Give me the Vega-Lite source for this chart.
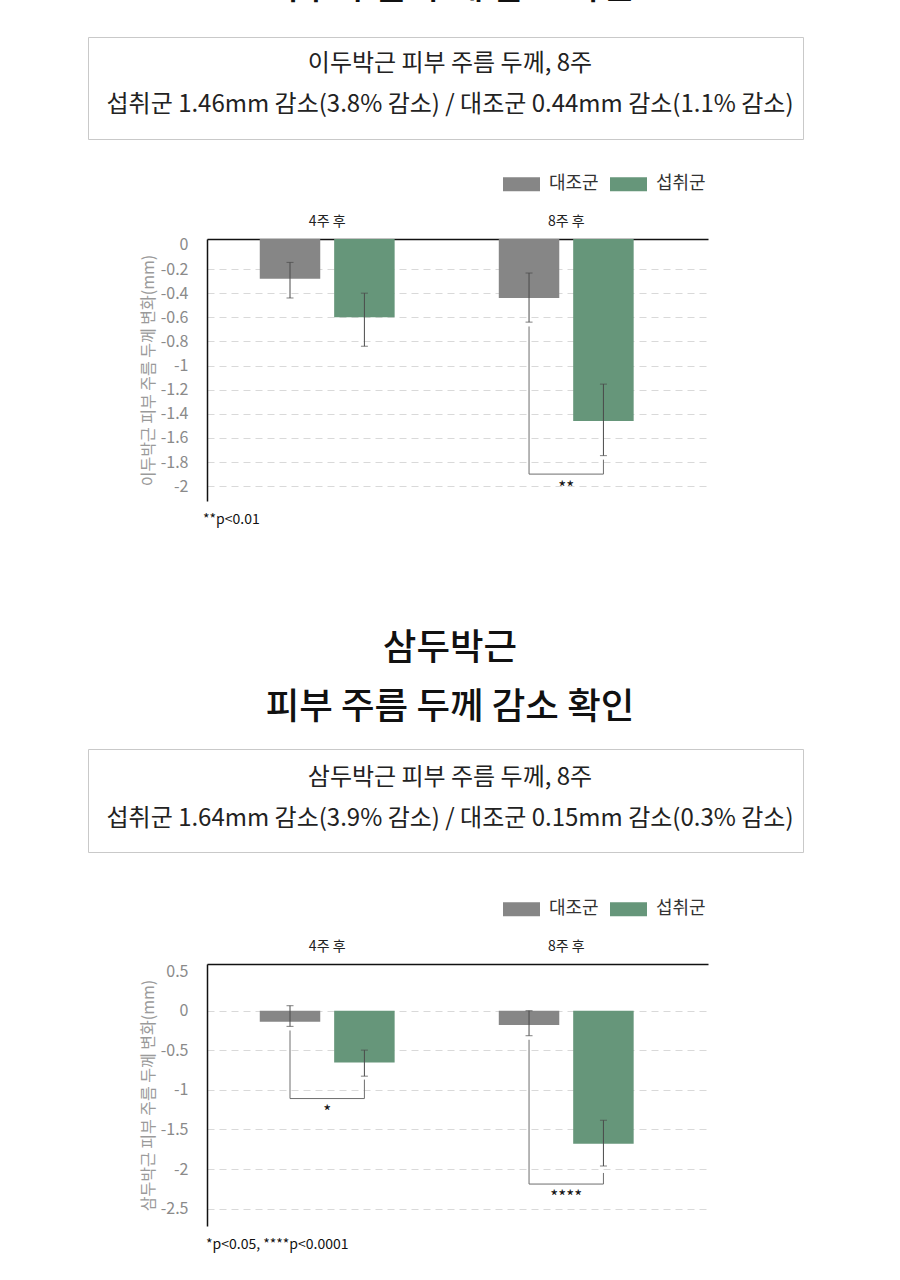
{
  "$schema": "https://vega.github.io/schema/vega-lite/v6.json",
  "padding": 0,
  "background": "white",
  "spacing": 0,
  "config": {
    "view": {"stroke": null},
    "font": "Noto Sans CJK KR",
    "concat": {"spacing": 0}
  },
  "resolve": {"scale": {"color": "independent"}, "legend": {"color": "independent"}},
  "datasets": {
    "bars1": [
      {"week": "4주 후", "group": "대조군", "v": -0.28},
      {"week": "4주 후", "group": "섭취군", "v": -0.60},
      {"week": "8주 후", "group": "대조군", "v": -0.44},
      {"week": "8주 후", "group": "섭취군", "v": -1.46}
    ],
    "err1": [
      {"week": "4주 후", "group": "대조군", "lo": -0.44, "hi": -0.145},
      {"week": "4주 후", "group": "섭취군", "lo": -0.84, "hi": -0.40},
      {"week": "8주 후", "group": "대조군", "lo": -0.64, "hi": -0.233},
      {"week": "8주 후", "group": "섭취군", "lo": -1.747, "hi": -1.154}
    ],
    "brk1": [
      {"week": "8주 후", "group": "대조군", "v": -0.676, "i": 1},
      {"week": "8주 후", "group": "대조군", "v": -1.90, "i": 2},
      {"week": "8주 후", "group": "섭취군", "v": -1.90, "i": 3},
      {"week": "8주 후", "group": "섭취군", "v": -1.78, "i": 4}
    ],
    "star1": [
      {"week": "8주 후", "v": -1.90, "label": "**"}
    ],
    "bars2": [
      {"week": "4주 후", "group": "대조군", "v": -0.14},
      {"week": "4주 후", "group": "섭취군", "v": -0.654},
      {"week": "8주 후", "group": "대조군", "v": -0.18},
      {"week": "8주 후", "group": "섭취군", "v": -1.68}
    ],
    "err2": [
      {"week": "4주 후", "group": "대조군", "lo": -0.198, "hi": 0.063},
      {"week": "4주 후", "group": "섭취군", "lo": -0.827, "hi": -0.498},
      {"week": "8주 후", "group": "대조군", "lo": -0.316, "hi": 0.0},
      {"week": "8주 후", "group": "섭취군", "lo": -1.962, "hi": -1.384}
    ],
    "brk2": [
      {"week": "4주 후", "group": "대조군", "v": -0.25, "i": 1},
      {"week": "4주 후", "group": "대조군", "v": -1.11, "i": 2},
      {"week": "4주 후", "group": "섭취군", "v": -1.11, "i": 3},
      {"week": "4주 후", "group": "섭취군", "v": -0.87, "i": 4},
      {"week": "8주 후", "group": "대조군", "v": -0.367, "i": 1},
      {"week": "8주 후", "group": "대조군", "v": -2.19, "i": 2},
      {"week": "8주 후", "group": "섭취군", "v": -2.19, "i": 3},
      {"week": "8주 후", "group": "섭취군", "v": -2.05, "i": 4}
    ],
    "star2": [
      {"week": "4주 후", "v": -1.11, "label": "*"},
      {"week": "8주 후", "v": -2.19, "label": "****"}
    ]
  },
  "vconcat": [
    {
      "width": 900, "height": 36,
      "data": {"values": [{"t": "피부 주름 두께 감소 확인"}]},
      "mark": {"type": "text", "clip": true, "fontSize": 36.5, "fontWeight": 500, "color": "#111", "dy": -30},
      "encoding": {"text": {"field": "t"}}
    },
    {
      "spacing": 0,
      "resolve": {"scale": {"color": "independent"}, "legend": {"color": "independent"}},
      "hconcat": [
        {"width": 87, "height": 127.5, "data": {"values": []}, "mark": "point"},
        {
          "width": 715, "height": 102,
          "view": {"stroke": "#c9c9c9", "strokeWidth": 1},
          "data": {"values": [{"t": "이두박근 피부 주름 두께, 8주\n섭취군 1.46mm 감소(3.8% 감소) / 대조군 0.44mm 감소(1.1% 감소)"}]},
          "mark": {"type": "text", "lineBreak": "\n", "lineHeight": 41, "fontSize": 24, "color": "#222", "dx": 4.5, "dy": -24},
          "encoding": {"text": {"field": "t"}}
        }
      ]
    },
    {
      "spacing": 0,
      "resolve": {"scale": {"color": "independent"}, "legend": {"color": "independent"}},
      "hconcat": [
        {"width": 140, "height": 361, "data": {"values": []}, "mark": "point"},
        {
          "width": 501, "height": 262,
          "title": {"text": "**p<0.01", "orient": "bottom", "anchor": "start", "frame": "group", "fontSize": 14, "fontWeight": "normal", "color": "#111", "offset": 12, "dx": -4},
          "encoding": {
            "x": {"field": "week", "type": "nominal",
              "scale": {"domain": ["4주 후", "8주 후"], "paddingInner": 0, "paddingOuter": 0.048, "align": 0.03},
              "axis": {"orient": "top", "title": null, "ticks": false, "labelAngle": 0, "labelFontSize": 14, "labelColor": "#222", "labelPadding": 11, "domainColor": "#111", "domainWidth": 1.5, "grid": false}}
          },
          "layer": [
            {
              "data": {"name": "bars1"},
              "mark": {"type": "bar"},
              "encoding": {
                "xOffset": {"field": "group", "type": "nominal", "scale": {"domain": ["대조군", "섭취군"], "paddingInner": 0.187, "paddingOuter": 0.7}},
                "y": {"field": "v", "type": "quantitative",
                  "scale": {"domain": [-2.123, 0.049], "nice": false, "zero": false},
                  "axis": {"title": "이두박근 피부 주름 두께 변화(mm)", "values": [0, -0.2, -0.4, -0.6, -0.8, -1, -1.2, -1.4, -1.6, -1.8, -2], "tickCount": 12,
                    "labelExpr": "replace(format(datum.value, '~g'), '\u2212', '-')", "labelOverlap": false,
                    "grid": true, "gridColor": "#d9d9d9", "gridDash": [7, 5], "gridWidth": 1,
                    "gridOpacity": {"condition": {"test": "datum.value >= 0", "value": 0}, "value": 1},
                    "ticks": false, "labelFontSize": 16, "labelColor": "#8a8a8a", "labelPadding": 19,
                    "domainColor": "#111", "domainWidth": 1.5,
                    "titleFontSize": 16, "titleFontWeight": "normal", "titleColor": "#9a9a9a", "titlePadding": 4}},
                "y2": {"datum": 0.049},
                "color": {"field": "group", "type": "nominal",
                  "scale": {"domain": ["대조군", "섭취군"], "range": ["#868686", "#66967a"]},
                  "legend": {"orient": "none", "legendX": 296, "legendY": -73.5, "direction": "horizontal", "title": null,
                    "symbolType": "M-1,-0.38L1,-0.38L1,0.38L-1,0.38Z", "symbolSize": 1369, "symbolStrokeWidth": 0, "symbolOpacity": 1,
                    "labelFontSize": 18, "labelColor": "#333", "labelOffset": 9, "columnPadding": 11, "padding": 0}}
              }
            },
            {
              "data": {"name": "err1"},
              "mark": {"type": "rule", "color": "#4a4a4a", "strokeWidth": 1},
              "encoding": {
                "xOffset": {"field": "group", "type": "nominal", "scale": {"domain": ["대조군", "섭취군"], "paddingInner": 0.187, "paddingOuter": 0.7}},
                "y": {"field": "lo", "type": "quantitative", "scale": {"domain": [-2.123, 0.049], "nice": false, "zero": false}},
                "y2": {"field": "hi"}
              }
            },
            {
              "data": {"name": "err1"},
              "mark": {"type": "tick", "color": "#4a4a4a", "thickness": 1, "size": 7},
              "encoding": {
                "xOffset": {"field": "group", "type": "nominal", "scale": {"domain": ["대조군", "섭취군"], "paddingInner": 0.187, "paddingOuter": 0.7}},
                "y": {"field": "lo", "type": "quantitative", "scale": {"domain": [-2.123, 0.049], "nice": false, "zero": false}}
              }
            },
            {
              "data": {"name": "err1"},
              "mark": {"type": "tick", "color": "#4a4a4a", "thickness": 1, "size": 7},
              "encoding": {
                "xOffset": {"field": "group", "type": "nominal", "scale": {"domain": ["대조군", "섭취군"], "paddingInner": 0.187, "paddingOuter": 0.7}},
                "y": {"field": "hi", "type": "quantitative", "scale": {"domain": [-2.123, 0.049], "nice": false, "zero": false}}
              }
            },
            {
              "data": {"name": "brk1"},
              "mark": {"type": "line", "color": "#6e6e6e", "strokeWidth": 1},
              "encoding": {
                "xOffset": {"field": "group", "type": "nominal", "scale": {"domain": ["대조군", "섭취군"], "paddingInner": 0.187, "paddingOuter": 0.7}},
                "y": {"field": "v", "type": "quantitative", "scale": {"domain": [-2.123, 0.049], "nice": false, "zero": false}},
                "order": {"field": "i", "type": "quantitative"},
                "detail": {"field": "week"}
              }
            },
            {
              "data": {"name": "star1"},
              "mark": {"type": "text", "baseline": "top", "dy": 7, "fontSize": 17, "color": "#111"},
              "encoding": {
                "y": {"field": "v", "type": "quantitative", "scale": {"domain": [-2.123, 0.049], "nice": false, "zero": false}},
                "text": {"field": "label"}
              }
            }
          ]
        }
      ]
    },
    {
      "width": 900, "height": 148,
      "data": {"values": [{"t": "삼두박근\n피부 주름 두께 감소 확인"}]},
      "mark": {"type": "text", "lineBreak": "\n", "lineHeight": 59, "fontSize": 36.5, "fontWeight": 500, "color": "#111", "dy": -25},
      "encoding": {"text": {"field": "t"}}
    },
    {
      "spacing": 0,
      "resolve": {"scale": {"color": "independent"}, "legend": {"color": "independent"}},
      "hconcat": [
        {"width": 87, "height": 140.8, "data": {"values": []}, "mark": "point"},
        {
          "width": 715, "height": 103,
          "view": {"stroke": "#c9c9c9", "strokeWidth": 1},
          "data": {"values": [{"t": "삼두박근 피부 주름 두께, 8주\n섭취군 1.64mm 감소(3.9% 감소) / 대조군 0.15mm 감소(0.3% 감소)"}]},
          "mark": {"type": "text", "lineBreak": "\n", "lineHeight": 41, "fontSize": 24, "color": "#222", "dx": 4.5, "dy": -23},
          "encoding": {"text": {"field": "t"}}
        }
      ]
    },
    {
      "spacing": 0,
      "resolve": {"scale": {"color": "independent"}, "legend": {"color": "independent"}},
      "hconcat": [
        {"width": 140, "height": 316, "data": {"values": []}, "mark": "point"},
        {
          "width": 501, "height": 262,
          "title": {"text": "*p<0.05, ****p<0.0001", "orient": "bottom", "anchor": "start", "frame": "group", "fontSize": 14, "fontWeight": "normal", "color": "#111", "offset": 12, "dx": -1},
          "encoding": {
            "x": {"field": "week", "type": "nominal",
              "scale": {"domain": ["4주 후", "8주 후"], "paddingInner": 0, "paddingOuter": 0.048, "align": 0.03},
              "axis": {"orient": "top", "title": null, "ticks": false, "labelAngle": 0, "labelFontSize": 14, "labelColor": "#222", "labelPadding": 11, "domainColor": "#111", "domainWidth": 1.5, "grid": false}}
          },
          "layer": [
            {
              "data": {"name": "bars2"},
              "mark": {"type": "bar"},
              "encoding": {
                "xOffset": {"field": "group", "type": "nominal", "scale": {"domain": ["대조군", "섭취군"], "paddingInner": 0.187, "paddingOuter": 0.7}},
                "y": {"field": "v", "type": "quantitative",
                  "scale": {"domain": [-2.72, 0.59], "nice": false, "zero": false},
                  "axis": {"title": "삼두박근 피부 주름 두께 변화(mm)", "values": [0.5, 0, -0.5, -1, -1.5, -2, -2.5], "tickCount": 8,
                    "labelExpr": "replace(format(datum.value, '~g'), '\u2212', '-')", "labelOverlap": false,
                    "grid": true, "gridColor": "#d9d9d9", "gridDash": [7, 5], "gridWidth": 1,
                    "gridOpacity": {"condition": {"test": "datum.value > 0.25", "value": 0}, "value": 1},
                    "ticks": false, "labelFontSize": 16, "labelColor": "#8a8a8a", "labelPadding": 19,
                    "domainColor": "#111", "domainWidth": 1.5,
                    "titleFontSize": 16, "titleFontWeight": "normal", "titleColor": "#9a9a9a", "titlePadding": 4}},
                "y2": {"datum": 0},
                "color": {"field": "group", "type": "nominal",
                  "scale": {"domain": ["대조군", "섭취군"], "range": ["#868686", "#66967a"]},
                  "legend": {"orient": "none", "legendX": 296, "legendY": -73.5, "direction": "horizontal", "title": null,
                    "symbolType": "M-1,-0.38L1,-0.38L1,0.38L-1,0.38Z", "symbolSize": 1369, "symbolStrokeWidth": 0, "symbolOpacity": 1,
                    "labelFontSize": 18, "labelColor": "#333", "labelOffset": 9, "columnPadding": 11, "padding": 0}}
              }
            },
            {
              "data": {"name": "err2"},
              "mark": {"type": "rule", "color": "#4a4a4a", "strokeWidth": 1},
              "encoding": {
                "xOffset": {"field": "group", "type": "nominal", "scale": {"domain": ["대조군", "섭취군"], "paddingInner": 0.187, "paddingOuter": 0.7}},
                "y": {"field": "lo", "type": "quantitative", "scale": {"domain": [-2.72, 0.59], "nice": false, "zero": false}},
                "y2": {"field": "hi"}
              }
            },
            {
              "data": {"name": "err2"},
              "mark": {"type": "tick", "color": "#4a4a4a", "thickness": 1, "size": 7},
              "encoding": {
                "xOffset": {"field": "group", "type": "nominal", "scale": {"domain": ["대조군", "섭취군"], "paddingInner": 0.187, "paddingOuter": 0.7}},
                "y": {"field": "lo", "type": "quantitative", "scale": {"domain": [-2.72, 0.59], "nice": false, "zero": false}}
              }
            },
            {
              "data": {"name": "err2"},
              "mark": {"type": "tick", "color": "#4a4a4a", "thickness": 1, "size": 7},
              "encoding": {
                "xOffset": {"field": "group", "type": "nominal", "scale": {"domain": ["대조군", "섭취군"], "paddingInner": 0.187, "paddingOuter": 0.7}},
                "y": {"field": "hi", "type": "quantitative", "scale": {"domain": [-2.72, 0.59], "nice": false, "zero": false}}
              }
            },
            {
              "data": {"name": "brk2"},
              "mark": {"type": "line", "color": "#6e6e6e", "strokeWidth": 1},
              "encoding": {
                "xOffset": {"field": "group", "type": "nominal", "scale": {"domain": ["대조군", "섭취군"], "paddingInner": 0.187, "paddingOuter": 0.7}},
                "y": {"field": "v", "type": "quantitative", "scale": {"domain": [-2.72, 0.59], "nice": false, "zero": false}},
                "order": {"field": "i", "type": "quantitative"},
                "detail": {"field": "week"}
              }
            },
            {
              "data": {"name": "star2"},
              "mark": {"type": "text", "baseline": "top", "dy": 6, "fontSize": 17, "color": "#111"},
              "encoding": {
                "y": {"field": "v", "type": "quantitative", "scale": {"domain": [-2.72, 0.59], "nice": false, "zero": false}},
                "text": {"field": "label"}
              }
            }
          ]
        }
      ]
    }
  ]
}
